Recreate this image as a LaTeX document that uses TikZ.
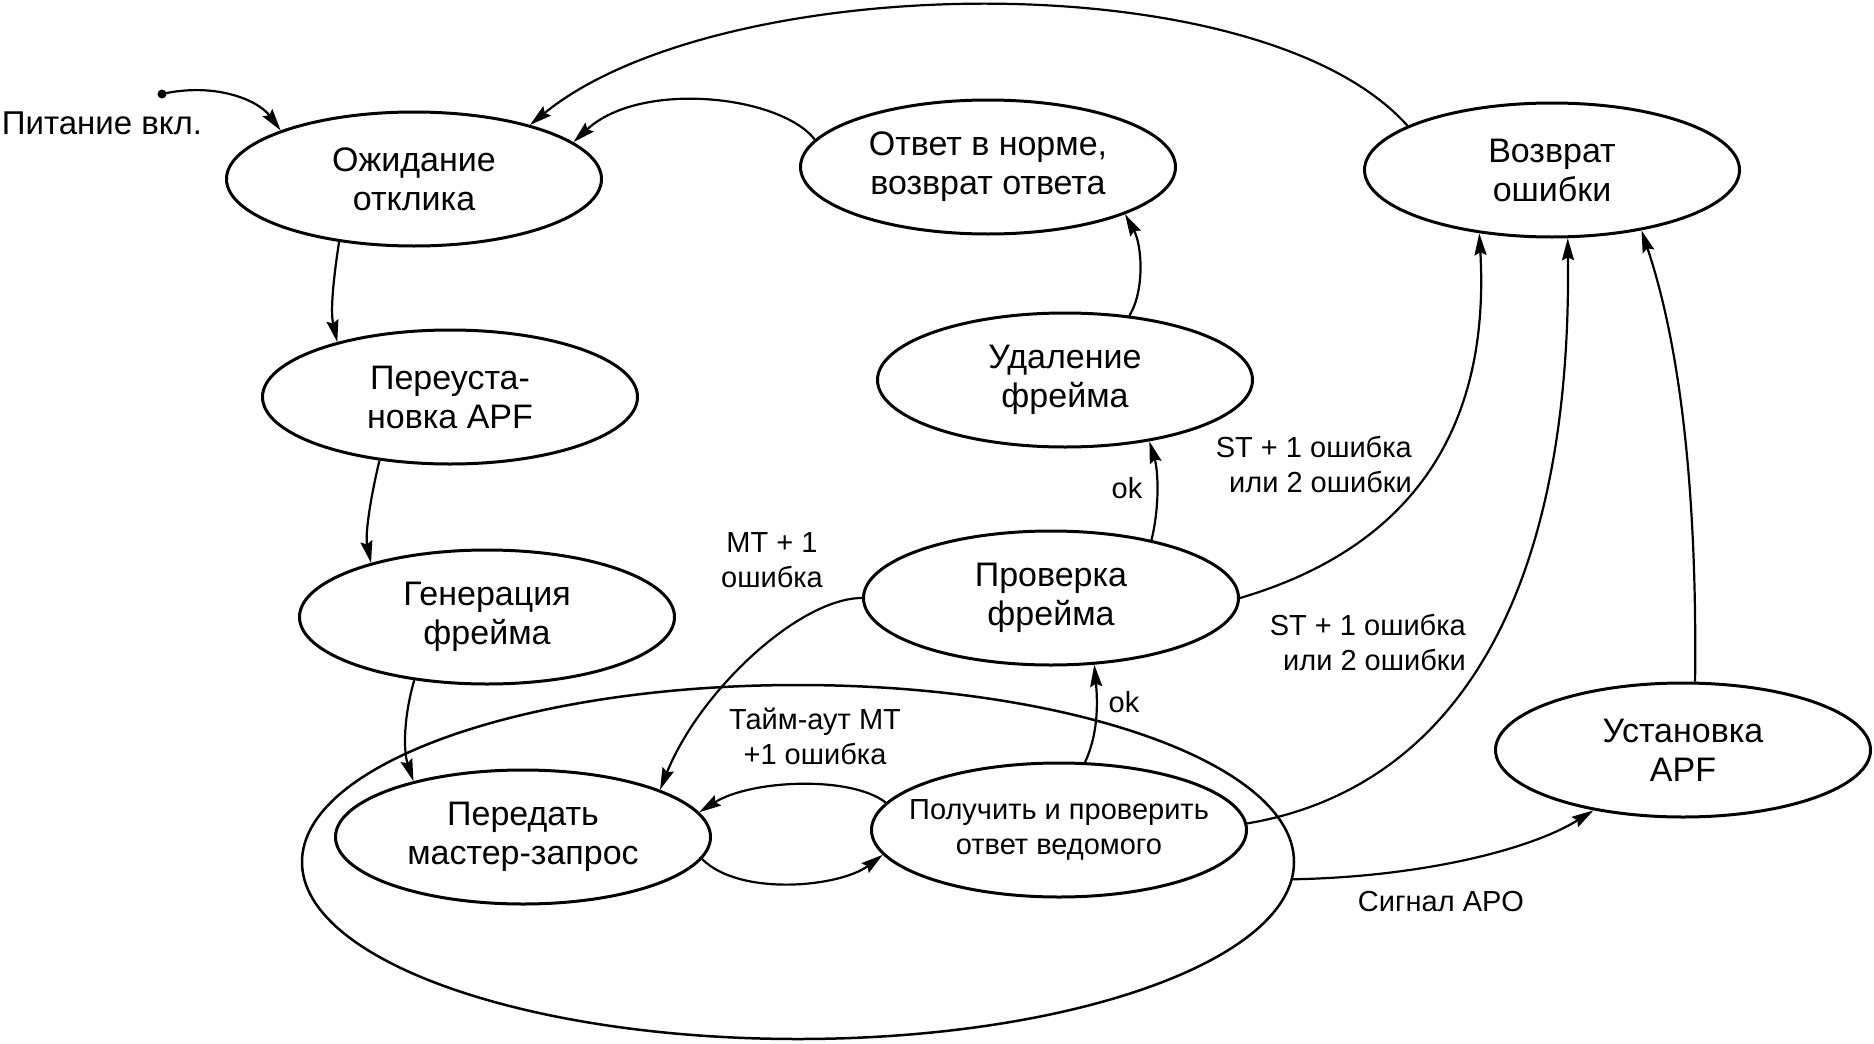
\documentclass[tikz,border=0pt]{standalone}
\usepackage{fontspec}
\setmainfont{Liberation Sans}
\usetikzlibrary{shapes.geometric,arrows.meta}
\begin{document}
\begin{tikzpicture}[x=1pt,y=-1pt,
  st/.style={ellipse,draw,line width=3pt,minimum width=375pt,minimum height=134pt,inner sep=0pt,align=center,font=\fontsize{34}{39}\selectfont},
  conn/.style={line width=2.2pt,-{Stealth[length=22pt,width=12pt,inset=3pt]}},
  lbl/.style={font=\fontsize{29}{35}\selectfont,inner sep=0pt,align=center}]
\useasboundingbox (0,0) rectangle (1874,1044);

% container
\node[ellipse,draw,line width=2.5pt,minimum width=992pt,minimum height=354pt,inner sep=0pt] (big) at (798,862) {};

% states
\node[st] (A) at (414,179) {Ожидание\\отклика};
\node[st] (B) at (450,397) {Переуста-\\новка APF};
\node[st] (C) at (487,617) {Генерация\\фрейма};
\node[st] (D) at (523,837) {Передать\\мастер-запрос};
\node[st,font=\fontsize{29}{35}\selectfont,inner xsep=-45pt] (E) at (1059,830) {Получить и проверить\\ответ ведомого};
\node[st] (F) at (1051,598) {Проверка\\фрейма};
\node[st] (G) at (1065,380) {Удаление\\фрейма};
\node[st] (H) at (988,167) {Ответ в норме,\\возврат ответа};
\node[st] (I) at (1552,170) {Возврат\\ошибки};
\node[st] (J) at (1683,750) {Установка\\APF};

% power on
\coordinate (pw) at (162,94);
\fill (pw) circle[radius=4.5pt];
\node[font=\fontsize{33}{38}\selectfont,inner sep=0pt] (pwtext) at (102,123) {Питание вкл.};
\draw[conn] (pw) .. controls (215,82) and (258,100) .. (A.160);

% main chain
\draw[conn] (A.220) .. controls (334,275) and (330,310) .. (B.154);
\draw[conn] (B.222) .. controls (370,500) and (365,535) .. (C.155);
\draw[conn] (C.221) .. controls (404,715) and (403,750) .. (D.153);

% D <-> E
\draw[conn] (D.-7) .. controls (740,897) and (840,887) .. (E.188);
\draw[conn] (E.171) .. controls (850,775) and (750,780) .. (D.8);
\node[lbl] (ltm) at (815,736) {Тайм-аут MT\\+1 ошибка};

% F -> D
\draw[conn] (F.180) .. controls (800,598) and (700,690) .. (D.19);
\node[lbl] (lmt) at (772,560) {MT + 1\\ошибка};

% E -> F ok
\draw[conn] (E.69) .. controls (1100,730) and (1097,695) .. (F.-57);
\node[lbl] (lok1) at (1124,702) {ok};

% F -> G ok
\draw[conn] (F.30) .. controls (1160,505) and (1158,470) .. (G.-36);
\node[lbl] (lok2) at (1127,488) {ok};

% G -> H
\draw[conn] (G.45) .. controls (1145,290) and (1142,245) .. (H.-19);

% H -> A
\draw[conn] (H.171) .. controls (780,95) and (640,80) .. (A.13);

% I -> A
\draw[conn] (I.163) .. controls (1260,-40) and (720,-30) .. (A.25);

% F -> I
\draw[conn] (F.0) .. controls (1420,545) and (1490,420) .. (I.221);
\node[lbl,anchor=east,align=right] (lst1) at (1412,465) {ST + 1 ошибка\\или 2 ошибки};

% E -> I
\draw[conn] (E.2) .. controls (1445,790) and (1572,610) .. (I.-77);
\node[lbl,anchor=east,align=right] (lst2) at (1466,642) {ST + 1 ошибка\\или 2 ошибки};

% J -> I
\draw[conn] (J.80) .. controls (1697,520) and (1685,360) .. (I.-34);

% big -> J
\draw[conn] (big.-2) .. controls (1420,877) and (1530,850) .. (J.214);
\node[lbl] (lapo) at (1441,902) {Сигнал APO};
\end{tikzpicture}
\end{document}
